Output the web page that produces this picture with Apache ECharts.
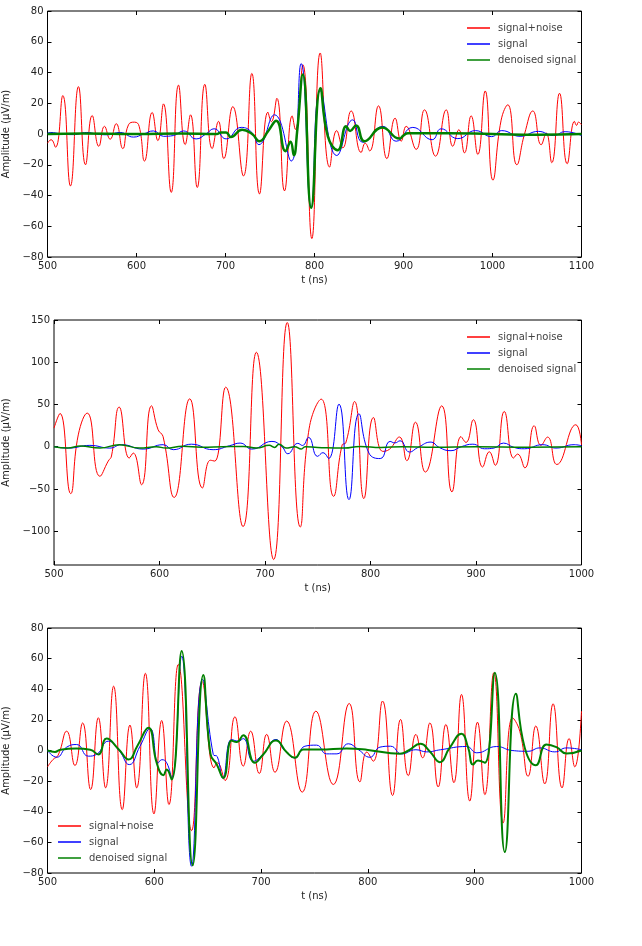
<!DOCTYPE html>
<html lang="en">
<head>
    <meta charset="utf-8">
    <title>denoising</title>
    <script src="https://cdn.jsdelivr.net/npm/echarts@6/dist/echarts.min.js"></script>
    <style type="text/css">
        html, body { margin: 0; padding: 0; background: #fff; }
        #chart { width: 642px; height: 946px; }
    </style>
</head>
<body>
<div id="chart"></div>
<script>
    // [t (ns), amplitude (uV/m)]
    var noisy1 = [[500,-6],[504,-3.7],[509,-8.6],[517.2,25],[525.8,-33.8],[534.8,30.8],[542.7,-20],[550.2,12],[557.7,-8],[564,5],[570.4,-3.4],[577.2,6.7],[584.6,-9.5],[591,6],[597.8,7.7],[603,5],[609,-17.6],[617.6,14],[624,-4.3],[630.3,19.6],[639,-38],[647.2,31.8],[654.7,-6.9],[660.7,12.5],[668.2,-34.8],[676.8,32.3],[685,-9.5],[692.1,8.2],[698.1,-16],[708.2,17.8],[720.2,-27.3],[729.6,39.4],[738.2,-39],[747.6,14.2],[751.5,8],[757.7,23.2],[766.3,-37],[774.9,11.8],[778.5,3],[786.9,45],[797,-68],[806.4,52.7],[816.9,-21.5],[825,2.2],[831.8,-9],[841.2,15],[852.4,-12],[857,-6],[862,-11],[871.9,18.3],[881.3,-16],[890.6,10.3],[897.4,-4.7],[903,5],[914.2,-10],[923.6,15.7],[936,-14.4],[948,15.7],[955.4,-8],[962.2,2.8],[968.5,-12.3],[976,11.8],[983.5,-13.3],[991.8,28],[1000.4,-30],[1009.7,9],[1017.2,19],[1027.3,-20],[1036,0],[1045.3,15],[1054.7,-7],[1060.3,0.6],[1066.6,-18.7],[1075.3,26.5],[1083.9,-19.4],[1092.1,8.2],[1094.5,5.6],[1096.6,7.7],[1100,6]];
    var clean1 = [[500,0.5],[503,1],[516,0],[529.2,-0.4],[544.2,1],[555,0],[566.7,-0.5],[581.6,1],[596.6,-2],[608,0],[619,2],[630.3,-1.5],[641.6,-1],[652.8,2],[667,-3.2],[678,0],[687.2,3.4],[700.7,-3.2],[717.6,4.3],[729.6,1],[737.5,-6.9],[755,12.5],[773.8,-17.6],[785,45.8],[796.3,-48],[806.7,28],[825,-14],[843,9.2],[854.3,-5.4],[876.8,5],[891.8,-4.7],[910.5,4.3],[932.2,-3.7],[942.3,3.4],[961,-3],[980.9,2.2],[999,-1.7],[1010.4,2.2],[1031,-1.5],[1051.6,1.7],[1068.5,-1],[1081.6,1.5],[1100,-1]];
    var denoised1 = [[500,0],[540,0.3],[600,0],[650,0.3],[690,0],[695,1],[700.7,1],[706,-2],[718.7,2.8],[729.9,0],[738.2,-4.7],[748,2],[757,8.6],[767.5,-11.2],[773,-5],[776.8,-13.8],[780.5,1.7],[786.9,38.7],[796.3,-48],[806.7,29.7],[815,-1.5],[826.2,-10.5],[835.6,5],[840,2],[846.7,5.6],[856.1,-4.7],[876,4.3],[895.5,-3],[900,-1],[905,0.5],[950,0.5],[1000,0],[1050,-0.5],[1100,0]];

    var noisy2 = [[500,22],[505.7,39.4],[515.8,-55.5],[523,14],[531.5,39.8],[543.5,-35],[551.4,-17],[554.5,-11],[561.8,46.9],[571.3,-13.4],[575.1,-7.5],[583,-45],[592.4,48.4],[598.7,20],[603.4,12],[613.9,-60],[628.7,56.7],[640.7,-48.8],[648.2,-16],[652.4,-17],[662.7,70.5],[679.2,-94.5],[691.8,111.8],[708.2,-133.5],[721.1,147],[733.4,-95],[741.9,22],[753.3,56.3],[765,-58.7],[773.2,2.4],[776.5,4.3],[784.9,53.5],[793.7,-61.4],[802.8,34.6],[811.6,-5.5],[818,-3],[827.4,11.5],[834.4,-16.5],[842.6,29],[852,-30],[867.5,48.4],[877.2,-53.5],[885.8,12],[890.5,5],[897.4,32],[906.3,-24],[912.6,-6],[918.2,-22],[926.8,41.7],[935.6,-13.4],[939.4,-8.7],[946.3,-25],[955.2,24.8],[961.5,1.6],[967.8,11.4],[976.6,-21],[994.6,26],[1000,2.4]];
    var clean2 = [[500,0],[513.6,-1.6],[534,1.6],[553,-1.6],[564,2.4],[584.5,-2.8],[603.4,2.4],[613,-3.5],[630.2,3],[650.8,-3.5],[666.5,1.2],[676.4,4.3],[687.5,-2.8],[706.6,6.3],[716,0],[721.7,-8.3],[731.1,4],[735.5,1.5],[741.3,11],[749.8,-11.4],[755,-7],[760.3,-14],[770.1,50.4],[779.6,-62.6],[789,39],[798.5,-7.5],[809.2,-14],[818.6,6.3],[823,4.5],[828,7],[837,-6.3],[845,-0.8],[857.4,5.5],[865,-0.8],[876.3,-4.7],[886,0],[897,3],[908,-2.4],[917,-1.6],[926,4.3],[936,-0.8],[945.9,-2.4],[963.2,2.4],[975.8,-1.6],[993,2.4],[1000,1.2]];
    var denoised2 = [[500,0],[513,-1.6],[525,1],[543.5,-1.6],[562,2.4],[581,-1.6],[597,0],[606,-1.6],[622,0.5],[640,-0.5],[660,0],[680,0.4],[692,-1.6],[704,1.6],[709,-0.8],[713.4,3],[720,-1.6],[728,0],[734.4,-2.8],[738,0],[750,-0.8],[775,-1.6],[790,0.4],[810,-0.8],[830,0],[860,-0.5],[900,0],[950,-0.5],[1000,0]];

    var noisy3 = [[500,-10.7],[505,-6],[510,-3],[517.9,12.6],[525.7,-9.8],[532.9,18],[540.4,-25.5],[547.6,21.4],[554.4,-24.4],[561.9,42],[570,-38.6],[577.2,16.6],[583.5,-24.4],[591.6,50.4],[599.7,-41.4],[606.9,19.6],[613.7,-35.3],[622.5,56.2],[634.9,-52.3],[644.9,45],[655.9,-11.3],[659,-8],[666.2,-19.6],[675.5,22],[683.3,-10.2],[690.2,12.6],[698.3,-15],[705.2,10.5],[713,-14.2],[723.9,19.2],[738.5,-27.2],[751.3,25.7],[767.6,-22.2],[782.5,30.7],[792.5,-20.5],[799,-1],[805,-7],[813.7,32.3],[823.1,-29.4],[830.6,20.3],[837.8,-16.4],[845,10.5],[851.2,-4.8],[858,18],[865.8,-23.8],[873,17],[880.5,-21],[887.6,36.6],[895.4,-33],[902.6,18.5],[909.5,-28.8],[917.9,50.8],[926.6,-47.3],[935.4,21.4],[942.2,12.6],[950,-16.8],[957.2,16],[965.6,-21.8],[973.4,30.5],[981.8,-24.4],[988.4,7.8],[993.7,-10.7],[1000,25.7]];
    var clean3 = [[500,0],[508.6,-4.4],[518,2.2],[527.3,3.9],[538.2,-3.7],[546,-2.5],[556.9,6.1],[567,0],[576.6,-9.2],[586.6,2.8],[596,14.4],[603.8,-8],[607,-6],[611.6,-8],[616.2,-17.9],[625.6,61.7],[634.9,-75.6],[645.2,46.4],[655.2,-2.6],[659,-4],[664,-17.9],[672.4,7.2],[678.7,6.1],[683.3,7.8],[692.7,-7],[702,-2.2],[713.9,7.2],[722,0],[731.7,-4.8],[741,2.8],[751.9,3.5],[761.3,-2.2],[771,-2.2],[781.6,4.4],[791,0.6],[801.9,-4.4],[811.3,2.2],[821.2,2.8],[831.6,-2.2],[845,0.5],[855,-0.9],[868,0.5],[892.3,2.6],[902,-1.5],[920.5,2.6],[935,0],[950,-0.5],[961,1.7],[975,-0.9],[986,1.7],[1000,0.5]];
    var denoised3 = [[500,0],[507,-0.9],[512,0.5],[527,1.3],[540,0.5],[547.6,-2.6],[555.3,7.8],[567,0.5],[576,-5.9],[584,2.8],[594.4,14.8],[602.2,-8],[608.5,-16.1],[611.6,-12.4],[616.2,-19],[625.6,65],[635.9,-75],[645.9,49.3],[652.6,-2.2],[658.4,-9],[664.6,-17.9],[672.4,6.5],[677,5.5],[683.3,10],[694.2,-8],[702,-2.6],[713.9,6.5],[724,-1.2],[731.7,-4.8],[739.5,0.6],[755,0.6],[780,1.3],[800,0.4],[830,-2.2],[838,0],[849.1,4.4],[858,-0.6],[867.3,-7.6],[876.5,1.7],[887.6,10.9],[893.8,2],[898.4,-9.2],[903,-6.5],[909.5,-8],[918.8,50.8],[928.2,-66.3],[938.5,37],[946.9,1.7],[957.2,-9.6],[967.2,3.9],[976.5,2.2],[986,-2],[1000,0]];

    var names = ['signal+noise', 'signal', 'denoised signal'];
    var yTicks2 = [-100, -50, 0, 50, 100, 150];

    var FONT = 'DejaVu Sans';
    var minus = function(v) { return String(v).replace('-', '\u2212'); };

    var panels = [
        { grid: { left: 47.5, top: 11, width: 534, height: 246 }, x: [500, 1100, 100], y: [-80, 80, 20], data: [noisy1, clean1, denoised1], green: 2.5, legend: { left: 462, top: 18 } },
        { grid: { left: 54, top: 320, width: 527.5, height: 245 }, x: [500, 1000, 100], y: [-140, 150, null], data: [noisy2, clean2, denoised2], green: 1.5, legend: { left: 462, top: 327 } },
        { grid: { left: 47.5, top: 628, width: 534, height: 245 }, x: [500, 1000, 100], y: [-80, 80, 20], data: [noisy3, clean3, denoised3], green: 2, legend: { left: 53, top: 816 } }
    ];
    var colors = ['#ff0000', '#0000ff', '#008000'];

    var option = { animation: false, grid: [], xAxis: [], yAxis: [], legend: [], series: [] };

    function tick() {
        return { show: true, inside: true, length: 4, lineStyle: { color: '#000', width: 1 } };
    }

    panels.forEach(function(p, i) {
        var g = p.grid;
        option.grid.push({ left: g.left, top: g.top, width: g.width, height: g.height, outerBoundsMode: 'none', containLabel: false, show: true, borderColor: '#000', borderWidth: 1, backgroundColor: '#fff' });

        var xb = { type: 'value', gridIndex: i, min: p.x[0], max: p.x[1], interval: p.x[2], splitLine: { show: false }, axisLine: { show: false, onZero: false }, axisTick: tick() };
        option.xAxis.push(Object.assign({}, xb, {
            position: 'bottom', name: 't (ns)', nameLocation: 'middle', nameGap: 18,
            nameTextStyle: { fontFamily: FONT, fontSize: 10, color: '#222' },
            axisLabel: { fontFamily: FONT, fontSize: 10, color: '#222', margin: 4, formatter: minus }
        }));

        var yb = { type: 'value', gridIndex: i, min: p.y[0], max: p.y[1], splitLine: { show: false }, axisLine: { show: false, onZero: false }, axisTick: tick() };
        var yLabel = { fontFamily: FONT, fontSize: 10, color: '#222', margin: 4, formatter: minus };
        if (p.y[2]) {
            yb.interval = p.y[2];
        } else {
            yb.axisTick = Object.assign(tick(), { customValues: yTicks2 });
            yLabel.customValues = yTicks2;
        }
        option.yAxis.push(Object.assign({}, yb, {
            position: 'left', name: 'Amplitude (\u03bcV/m)', nameLocation: 'middle', nameGap: g.left - 17,
            nameTextStyle: { fontFamily: FONT, fontSize: 10, color: '#222' },
            axisLabel: yLabel
        }));

        // mirrored ticks on top and right, as in the original
        p.xTop = Object.assign({}, xb, { position: 'top', axisLabel: { show: false } });
        p.yRight = Object.assign({}, yb, { position: 'right', axisLabel: { show: false } });

        option.legend.push({
            data: names, orient: 'vertical', left: p.legend.left, top: p.legend.top,
            icon: 'rect', itemWidth: 23, itemHeight: 1.5, itemGap: 6, selectedMode: false,
            textStyle: { fontFamily: FONT, fontSize: 10, color: '#444', padding: [0, 0, 0, 3] }
        });

        p.data.forEach(function(d, k) {
            option.series.push({
                name: names[k], type: 'line', xAxisIndex: i, yAxisIndex: i,
                data: d, smooth: 0.5, symbol: 'none', showSymbol: false, z: 2 + k,
                lineStyle: { color: colors[k], width: k === 2 ? p.green : 1 },
                itemStyle: { color: colors[k] }
            });
        });
    });
    panels.forEach(function(p) { option.xAxis.push(p.xTop); option.yAxis.push(p.yRight); });

    var chart = echarts.init(document.getElementById('chart'));
    chart.setOption(option);
</script>
</body>
</html>
